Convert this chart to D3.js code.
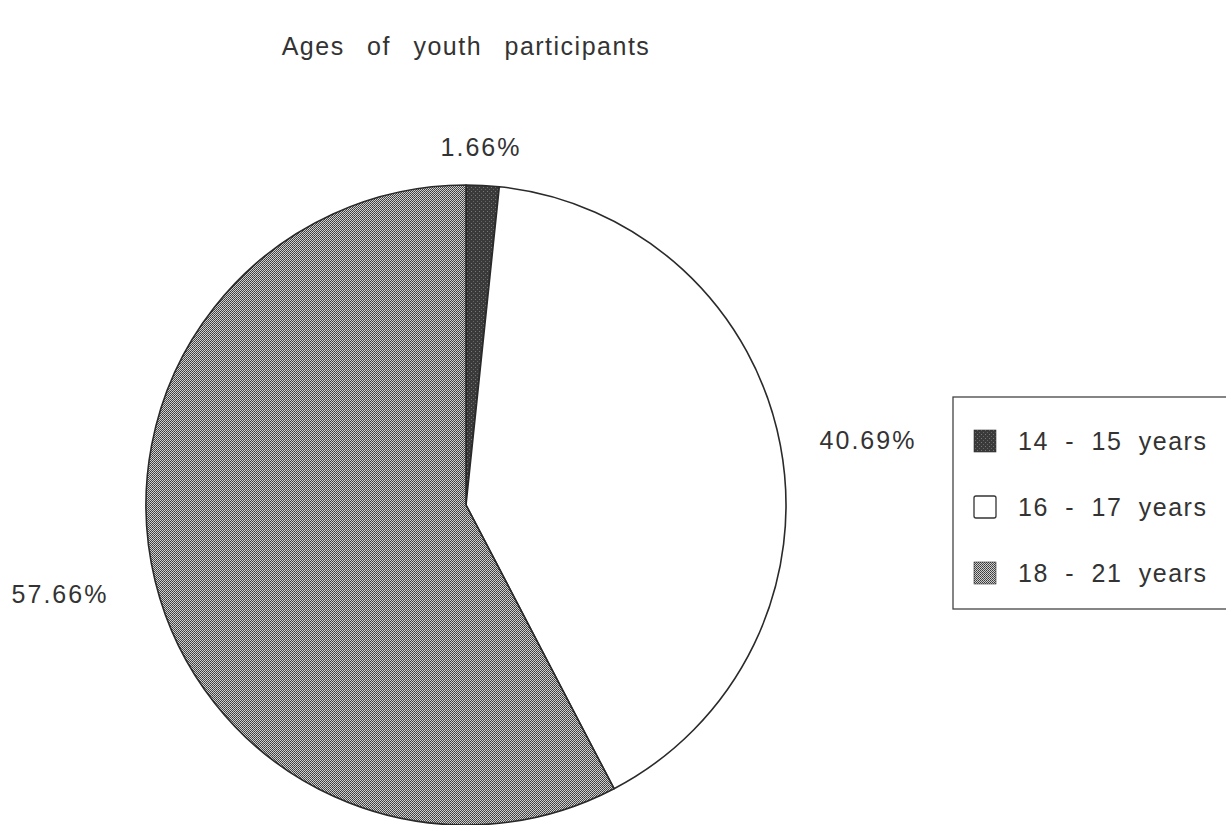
<!DOCTYPE html>
<html>
<head>
<meta charset="utf-8">
<script src="https://cdn.jsdelivr.net/npm/d3@7"></script>
<style>
  html, body { margin: 0; padding: 0; background: #fff; }
  svg { display: block; }
  text { font-family: "Liberation Sans", Arial, sans-serif; fill: #333; }
</style>
</head>
<body>
<svg id="chart" width="1226" height="825"></svg>
<script>
const title = "Ages of youth participants";
const categories = ["14 - 15 years", "16 - 17 years", "18 - 21 years"];
const values = [1.66, 40.69, 57.66];
const valueLabels = ["1.66%", "40.69%", "57.66%"];

const svg = d3.select("#chart");
const cx = 466, cy = 505, R = 320;

const defs = svg.append("defs");
// dark fill for 14-15
const pDark = defs.append("pattern").attr("id", "pDark").attr("patternUnits", "userSpaceOnUse")
  .attr("width", 4).attr("height", 4);
pDark.append("rect").attr("width", 4).attr("height", 4).attr("fill", "#3a3a3a");
pDark.append("rect").attr("x", 1).attr("y", 2).attr("width", 1).attr("height", 1).attr("fill", "#777");
pDark.append("rect").attr("x", 3).attr("y", 0).attr("width", 1).attr("height", 1).attr("fill", "#666");
// checker dither for 18-21
const pGray = defs.append("pattern").attr("id", "pGray").attr("patternUnits", "userSpaceOnUse")
  .attr("width", 2).attr("height", 2);
pGray.append("rect").attr("width", 2).attr("height", 2).attr("fill", "#cfcfcf");
pGray.append("rect").attr("x", 0).attr("y", 0).attr("width", 1).attr("height", 1).attr("fill", "#3a3a3a");
pGray.append("rect").attr("x", 1).attr("y", 1).attr("width", 1).attr("height", 1).attr("fill", "#505050");

const fills = d3.scaleOrdinal().domain(categories).range(["url(#pDark)", "#ffffff", "url(#pGray)"]);

svg.append("text").attr("x", 466).attr("y", 55).attr("text-anchor", "middle")
  .attr("font-size", 25).attr("letter-spacing", 1.5).attr("word-spacing", 14).text(title);

const data = categories.map((c, i) => ({ cat: c, value: values[i], label: valueLabels[i] }));
const pie = d3.pie().value(d => d.value).sort(null);
const arc = d3.arc().innerRadius(0).outerRadius(R);
const arcs = pie(data);

const g = svg.append("g").attr("transform", `translate(${cx},${cy})`);
g.selectAll("path.slice").data(arcs).join("path").attr("class", "slice")
  .attr("d", arc).attr("fill", d => fills(d.data.cat))
  .attr("stroke", "#2a2a2a").attr("stroke-width", 1.6).attr("stroke-linejoin", "round");

// value labels
const labelPos = [[481, 156], [868, 449], [60, 603]];
svg.selectAll("text.val").data(arcs).join("text").attr("class", "val")
  .attr("x", (d, i) => labelPos[i][0]).attr("y", (d, i) => labelPos[i][1])
  .attr("text-anchor", "middle")
  .attr("font-size", 25).attr("letter-spacing", 2)
  .text(d => d.data.label);

// legend
const lg = svg.append("g");
lg.append("rect").attr("x", 953).attr("y", 397).attr("width", 290).attr("height", 212)
  .attr("fill", "#fff").attr("stroke", "#444").attr("stroke-width", 1.3);
const ly = d3.scalePoint().domain(categories).range([441, 573]);
const sw = 22;
categories.forEach(c => {
  lg.append("rect").attr("x", 974).attr("y", ly(c) - sw / 2).attr("width", sw).attr("height", sw)
    .attr("rx", c === categories[1] ? 2 : 0)
    .attr("fill", fills(c)).attr("stroke", "#333").attr("stroke-width", c === categories[1] ? 1.3 : 0.6);
  lg.append("text").attr("x", 1018).attr("y", ly(c) + 9)
    .attr("font-size", 25).attr("letter-spacing", 1.5).attr("word-spacing", 8).text(c);
});
</script>
</body>
</html>
